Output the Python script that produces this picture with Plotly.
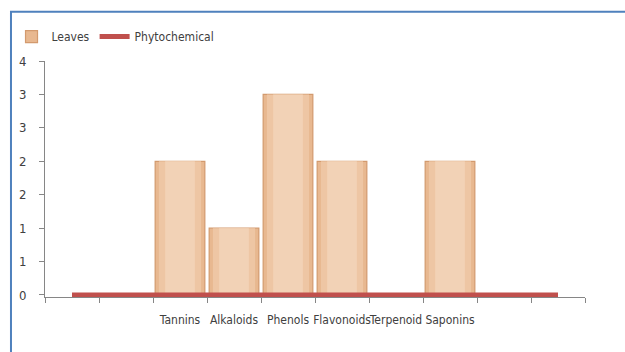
import plotly.graph_objects as go

categories = [" ", "  ", "Tannins", "Alkaloids", "Phenols", "Flavonoids", "Terpenoid", "Saponins", "   ", "    "]
leaves = [None, None, 2.0, 1.0, 3.0, 2.0, 0, 2.0, None, None]
phytochemical = [0, 0, 0, 0, 0, 0, 0, 0, 0, 0]
ytick_vals = [0, 0.5, 1, 1.5, 2, 2.5, 3, 3.5]
ytick_text = ["0", "1", "1", "2", "2", "3", "3", "4"]

font_family = "DejaVu Sans Condensed, Liberation Sans Narrow, Roboto, sans-serif"

fig = go.Figure()
fig.add_trace(go.Bar(
    x=categories, y=leaves, name="Leaves", width=0.92,
    marker=dict(color="#E8B890", line=dict(color="#D39A6E", width=1.2)),
))
fig.add_trace(go.Bar(
    x=categories, y=leaves, name="Leaves", width=0.78, showlegend=False, hoverinfo="skip",
    marker=dict(color="#EEC6A4", line=dict(width=0)),
))
fig.add_trace(go.Bar(
    x=categories, y=leaves, name="Leaves", width=0.55, showlegend=False, hoverinfo="skip",
    marker=dict(color="#F2D2B6", line=dict(width=0)),
))
fig.add_trace(go.Scatter(
    x=categories, y=phytochemical, name="Phytochemical", mode="lines",
    line=dict(color="#C0504D", width=5), cliponaxis=False,
))

fig.update_layout(
    width=625, height=352,
    margin=dict(l=45, r=40, t=61, b=55),
    paper_bgcolor="white", plot_bgcolor="white",
    barmode="overlay",
    font=dict(family=font_family, size=12, color="#404040"),
    showlegend=True,
    legend=dict(orientation="h", x=-0.062, y=1.165, xanchor="left", yanchor="top",
                font=dict(size=12, color="#404040"), bgcolor="rgba(0,0,0,0)",
                itemwidth=30, tracegroupgap=0),
    xaxis=dict(type="category", tickson="boundaries", ticks="outside", ticklen=5,
               tickangle=0, ticklabelstandoff=12,
               tickcolor="#868686", showline=True, linecolor="#868686", linewidth=1,
               showgrid=False, tickfont=dict(size=12, color="#404040"), fixedrange=True),
    yaxis=dict(range=[-0.03, 3.5], tickvals=ytick_vals, ticktext=ytick_text, ticks="outside",
               ticklen=5, tickcolor="#868686", showline=True, linecolor="#868686",
               linewidth=1, showgrid=False, zeroline=False,
               tickfont=dict(size=13, color="#404040"), ticklabelstandoff=10),
    shapes=[dict(type="rect", xref="paper", yref="paper", x0=-0.063, x1=1.5,
                 y0=-1, y1=1.2085, line=dict(color="#4F81BD", width=2), layer="below")],
)

fig.write_html("out.html")
